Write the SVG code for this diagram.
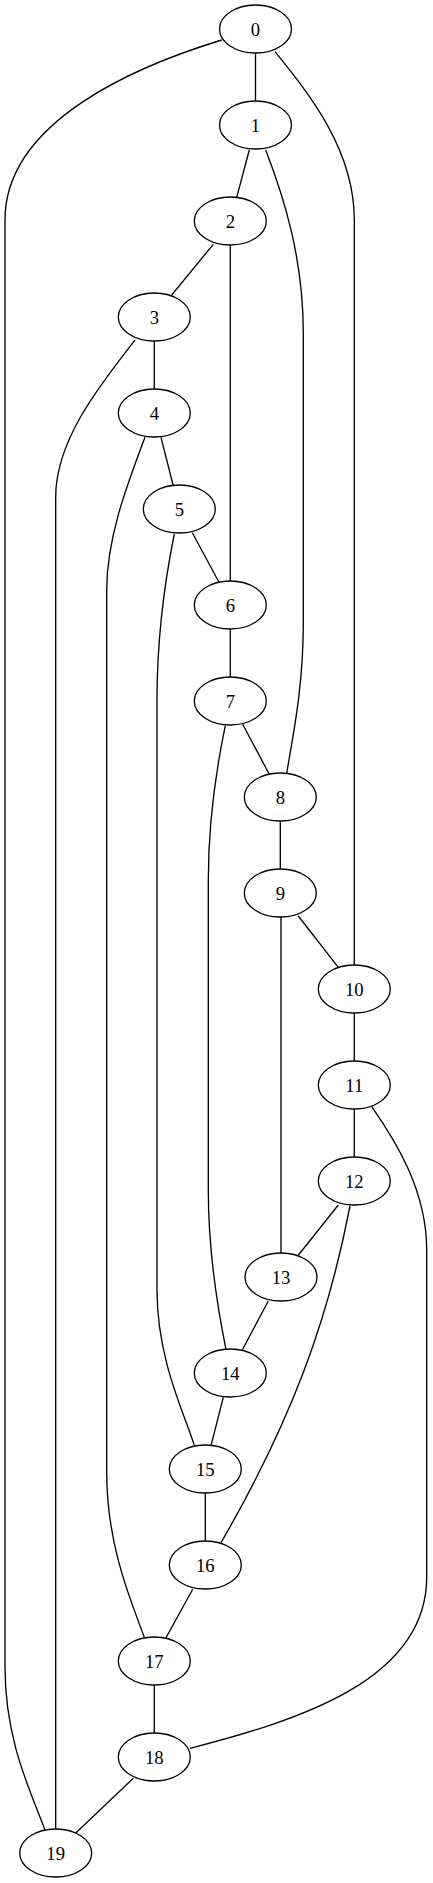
<svg xmlns="http://www.w3.org/2000/svg" width="433" height="1883" viewBox="0 0 433 1883">
<style>
.e{fill:none;stroke:#000;stroke-width:1.33}
.n ellipse{fill:#fff;stroke:#000;stroke-width:1.33}
.n text{font-family:"Liberation Serif","Times New Roman",serif;font-size:18.67px;text-anchor:middle;fill:#000}
</style>
<rect width="433" height="1883" fill="#fff"/>
<g id="edges">
<path class="e" d="M255.5,53 L255.5,101"/>
<path class="e" d="M275,51.7 C310,95 354.3,150 354.3,220 L354.3,965"/>
<path class="e" d="M221.7,40 C140,65 5,120 5,220 L5,1667 C5,1740 30,1790 45,1830"/>
<path class="e" d="M249.3,150 L236.7,197.3"/>
<path class="e" d="M265.7,150 C285,200 303.3,260 303.3,333 L303.3,623 C303.3,690 292,740 286.7,773.5"/>
<path class="e" d="M213.3,244.3 L171.7,295"/>
<path class="e" d="M230.3,245 L230.3,581"/>
<path class="e" d="M154.3,341 L154.3,389"/>
<path class="e" d="M135,340 C100,385 55.7,440 55.7,497 L55.7,1829"/>
<path class="e" d="M161,437.3 L173.3,486"/>
<path class="e" d="M145,437.3 C125,490 106.7,540 106.7,590 L106.7,1473 C106.7,1550 135,1610 144.3,1637.5"/>
<path class="e" d="M192.3,532.7 L219,582.3"/>
<path class="e" d="M174.3,534 C165,580 157,640 157,700 L157,1290 C157,1360 185,1415 194.3,1445.5"/>
<path class="e" d="M230.3,629 L230.3,677"/>
<path class="e" d="M242.7,724.3 L269.3,774.3"/>
<path class="e" d="M225.3,725.7 C215,775 208.3,830 208.3,880 L208.3,1190 C208.3,1260 220,1320 226,1349.5"/>
<path class="e" d="M280.3,821 L280.3,869"/>
<path class="e" d="M298.3,916 L338.3,967.3"/>
<path class="e" d="M281,917 L281,1253"/>
<path class="e" d="M354.3,1013 L354.3,1061"/>
<path class="e" d="M354.3,1109 L354.3,1157"/>
<path class="e" d="M371.7,1106.7 C395,1140 426.7,1190 426.7,1250 L426.7,1577 C426.7,1680 300,1720 190,1748.3"/>
<path class="e" d="M338.3,1205 L297.7,1256"/>
<path class="e" d="M350,1206 C328,1320 292,1420 221,1542.7"/>
<path class="e" d="M268.3,1301 L242.3,1350"/>
<path class="e" d="M223.3,1397.3 L211,1445.7"/>
<path class="e" d="M205.3,1493 L205.3,1541"/>
<path class="e" d="M192.7,1589.3 L165.7,1638.3"/>
<path class="e" d="M154.3,1685 L154.3,1733"/>
<path class="e" d="M133.3,1778.3 L76,1832.7"/>
</g>
<g id="node0" class="n"><ellipse cx="255.5" cy="29" rx="36" ry="24"/><text x="255.5" y="35.5">0</text></g>
<g id="node1" class="n"><ellipse cx="255.5" cy="125" rx="36" ry="24"/><text x="255.5" y="131.5">1</text></g>
<g id="node2" class="n"><ellipse cx="230.3" cy="221" rx="36" ry="24"/><text x="230.3" y="227.5">2</text></g>
<g id="node3" class="n"><ellipse cx="154.3" cy="317" rx="36" ry="24"/><text x="154.3" y="323.5">3</text></g>
<g id="node4" class="n"><ellipse cx="154.3" cy="413" rx="36" ry="24"/><text x="154.3" y="419.5">4</text></g>
<g id="node5" class="n"><ellipse cx="179.3" cy="509" rx="36" ry="24"/><text x="179.3" y="515.5">5</text></g>
<g id="node6" class="n"><ellipse cx="230.3" cy="605" rx="36" ry="24"/><text x="230.3" y="611.5">6</text></g>
<g id="node7" class="n"><ellipse cx="230.3" cy="701" rx="36" ry="24"/><text x="230.3" y="707.5">7</text></g>
<g id="node8" class="n"><ellipse cx="280.3" cy="797" rx="36" ry="24"/><text x="280.3" y="803.5">8</text></g>
<g id="node9" class="n"><ellipse cx="280.3" cy="893" rx="36" ry="24"/><text x="280.3" y="899.5">9</text></g>
<g id="node10" class="n"><ellipse cx="354.3" cy="989" rx="36" ry="24"/><text x="354.3" y="995.5">10</text></g>
<g id="node11" class="n"><ellipse cx="354.3" cy="1085" rx="36" ry="24"/><text x="354.3" y="1091.5">11</text></g>
<g id="node12" class="n"><ellipse cx="354.3" cy="1181" rx="36" ry="24"/><text x="354.3" y="1187.5">12</text></g>
<g id="node13" class="n"><ellipse cx="281" cy="1277" rx="36" ry="24"/><text x="281" y="1283.5">13</text></g>
<g id="node14" class="n"><ellipse cx="230.3" cy="1373" rx="36" ry="24"/><text x="230.3" y="1379.5">14</text></g>
<g id="node15" class="n"><ellipse cx="205.3" cy="1469" rx="36" ry="24"/><text x="205.3" y="1475.5">15</text></g>
<g id="node16" class="n"><ellipse cx="205.3" cy="1565" rx="36" ry="24"/><text x="205.3" y="1571.5">16</text></g>
<g id="node17" class="n"><ellipse cx="154.3" cy="1661" rx="36" ry="24"/><text x="154.3" y="1667.5">17</text></g>
<g id="node18" class="n"><ellipse cx="154.3" cy="1757" rx="36" ry="24"/><text x="154.3" y="1763.5">18</text></g>
<g id="node19" class="n"><ellipse cx="55.7" cy="1853" rx="36" ry="24"/><text x="55.7" y="1859.5">19</text></g>
</svg>
